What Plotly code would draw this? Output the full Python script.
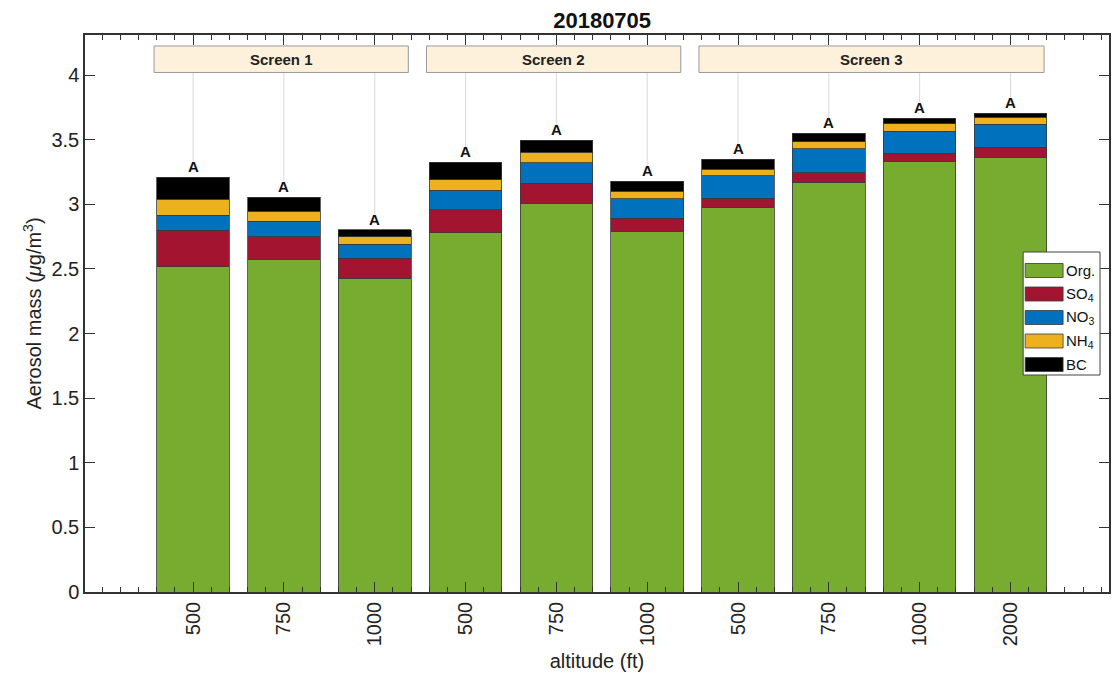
import plotly.graph_objects as go

# ---- data ----
altitudes = ["500", "750", "1000", "500", "750", "1000", "500", "750", "1000", "2000"]
org = [2.515, 2.574, 2.429, 2.780, 3.010, 2.793, 2.974, 3.172, 3.332, 3.366]
so4 = [0.283, 0.173, 0.155, 0.178, 0.154, 0.101, 0.074, 0.072, 0.062, 0.077]
no3 = [0.119, 0.123, 0.108, 0.150, 0.158, 0.149, 0.171, 0.184, 0.173, 0.178]
nh4 = [0.124, 0.075, 0.057, 0.082, 0.082, 0.059, 0.054, 0.056, 0.056, 0.054]
bc = [0.167, 0.111, 0.054, 0.135, 0.093, 0.078, 0.077, 0.065, 0.042, 0.031]
letters = ["A"] * 10
screen_names = ["Screen 1", "Screen 2", "Screen 3"]
screen_first = [1, 4, 7]
screen_last = [3, 6, 10]

species = ["Org.", "SO<sub>4</sub>", "NO<sub>3</sub>", "NH<sub>4</sub>", "BC"]
colors = ["#77AC30", "#A2142F", "#0072BD", "#EDB120", "#000000"]
series = [org, so4, no3, nh4, bc]

xpos = list(range(1, len(altitudes) + 1))
totals = [sum(v) for v in zip(*series)]

FONT = "Liberation Sans, Arial, sans-serif"
fig = go.Figure()
for name, col, vals in zip(species, colors, series):
    fig.add_trace(go.Bar(x=xpos, y=vals, name=name, width=0.8,
                         marker=dict(color=col, line=dict(color="#3a3a3a", width=0.8)),
                         showlegend=False))

# vertical guide lines from screen box to letters
box_y0, box_y1 = 4.02, 4.225
for x, t in zip(xpos, totals):
    fig.add_shape(type="line", xref="x", yref="y", x0=x, x1=x, y0=t + 0.10, y1=box_y0,
                  line=dict(color="#d9d9d9", width=1), layer="below")

# letters above bars
for x, t, l in zip(xpos, totals, letters):
    fig.add_annotation(x=x, y=t, text="<b>%s</b>" % l, showarrow=False, yanchor="bottom",
                       yshift=0, font=dict(family=FONT, size=15, color="#111"))

# screen boxes
for nm, a, b in zip(screen_names, screen_first, screen_last):
    x0, x1 = a - 0.43, b + 0.37
    fig.add_shape(type="rect", xref="x", yref="y", x0=x0, x1=x1, y0=box_y0, y1=box_y1,
                  fillcolor="#FEF1DC", line=dict(color="#9a9a9a", width=1))
    fig.add_annotation(x=(x0 + x1) / 2, y=(box_y0 + box_y1) / 2, text="<b>%s</b>" % nm,
                       showarrow=False, font=dict(family=FONT, size=15, color="#222"))

# custom legend (paper coordinates)
L, T, PW, PH = 85, 35, 1026, 557
def px2paper(px, py):
    return (px - L) / PW, (T + PH - py) / PH
bx0, by0 = px2paper(1025, 252)
bx1, by1 = px2paper(1102, 375)
fig.add_shape(type="rect", xref="paper", yref="paper", x0=bx0, x1=bx1, y0=by1, y1=by0,
              fillcolor="white", line=dict(color="#444", width=1))
for i, (name, col) in enumerate(zip(species, colors)):
    cy = 270.5 + i * 23.5
    sx0, sy0 = px2paper(1027, cy - 7)
    sx1, sy1 = px2paper(1065, cy + 7)
    fig.add_shape(type="rect", xref="paper", yref="paper", x0=sx0, x1=sx1, y0=sy1, y1=sy0,
                  fillcolor=col, line=dict(color="#3a3a3a", width=0.8))
    tx, ty = px2paper(1066, cy)
    fig.add_annotation(xref="paper", yref="paper", x=tx, y=ty, text=name, showarrow=False,
                       xanchor="left", yanchor="middle", font=dict(family=FONT, size=15, color="#111"))

fig.update_layout(
    width=1113, height=679,
    margin=dict(l=85, r=2, t=35, b=87),
    plot_bgcolor="white", paper_bgcolor="white",
    barmode="stack", bargap=0.2,
    title=dict(text="<b>20180705</b>", x=0.541, xanchor="center", y=0.970, yanchor="middle",
               font=dict(family=FONT, size=22, color="#111")),
    font=dict(family=FONT, color="#222"),
)
fig.update_xaxes(range=[-0.19, 11.085], tickvals=xpos, ticktext=altitudes, tickangle=-90,
                 ticks="inside", ticklen=10, tickwidth=1.2, tickcolor="#333",
                 minor=dict(dtick=0.2, tick0=0, ticks="inside", ticklen=5, tickwidth=1, tickcolor="#333"),
                 showline=True, linecolor="#333", linewidth=1.5, mirror="ticks",
                 showgrid=False, zeroline=False,
                 tickfont=dict(family=FONT, size=20, color="#222"),
                 title=dict(text="altitude (ft)", font=dict(family=FONT, size=20, color="#222"), standoff=9))
fig.update_yaxes(range=[0, 4.31], tickvals=[0, 0.5, 1, 1.5, 2, 2.5, 3, 3.5, 4],
                 ticktext=["0", "0.5", "1", "1.5", "2", "2.5", "3", "3.5", "4"],
                 ticks="inside", ticklen=10, tickwidth=1.2, tickcolor="#333",
                 showline=True, linecolor="#333", linewidth=1.5, mirror="ticks",
                 showgrid=False, zeroline=False,
                 tickfont=dict(family=FONT, size=20, color="#222"),
                 title=dict(text="Aerosol mass (<i>μ</i>g/m<sup>3</sup>)",
                            font=dict(family=FONT, size=20, color="#222"), standoff=4))

fig.write_html("out.html")
